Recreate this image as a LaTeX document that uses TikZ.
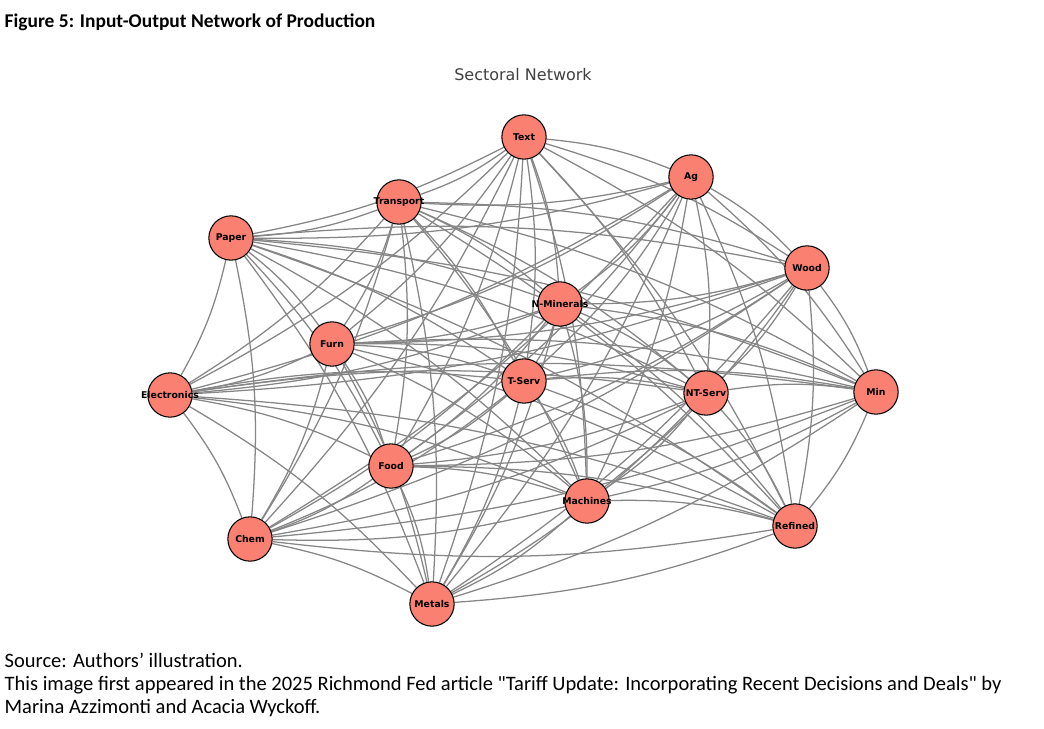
\documentclass[tikz,border=0pt]{standalone}
\usepackage{fontspec}
\setmainfont{Carlito}[Ligatures=TeXReset]
\newfontfamily\dejavu{DejaVu Sans}
\usetikzlibrary{backgrounds}
\definecolor{salmon}{RGB}{250,128,114}
\begin{document}
\begin{tikzpicture}[x=0.0264cm,y=-0.0264cm,
  sector/.style={circle,draw=black,line width=0.8pt,fill=salmon,minimum size=1.17cm,inner sep=0pt,
    label={[font=\dejavu\bfseries\fontsize{7}{8}\selectfont,inner sep=0pt]center:#1}},
  link/.style={draw=gray!95,line width=0.95pt,bend left=8}]
\useasboundingbox (0,0) rectangle (1044,729);
\node[anchor=west,font=\bfseries\fontsize{14.6}{17}\selectfont] (title) at (0,22) {Figure 5: Input-Output Network of Production};
\node[font=\dejavu\fontsize{12}{14}\selectfont,text=black!75] (st) at (523,75) {Sectoral Network};
\node (Text) [sector=Text] at (524,137) {};
\node (Ag) [sector=Ag] at (691,177) {};
\node (Transport) [sector=Transport] at (399,202) {};
\node (Paper) [sector=Paper] at (231,238) {};
\node (Wood) [sector=Wood] at (807,268) {};
\node (NMin) [sector=N-Minerals] at (560,304) {};
\node (Furn) [sector=Furn] at (332,344) {};
\node (Elec) [sector=Electronics] at (170,395) {};
\node (TServ) [sector=T-Serv] at (524,381) {};
\node (NTServ) [sector=NT-Serv] at (706,393) {};
\node (Min) [sector=Min] at (876,392) {};
\node (Food) [sector=Food] at (391,466) {};
\node (Mach) [sector=Machines] at (587,501) {};
\node (Ref) [sector=Refined] at (795,526) {};
\node (Chem) [sector=Chem] at (250,539) {};
\node (Metals) [sector=Metals] at (432,604) {};
\begin{pgfonlayer}{background}
\foreach \a [count=\i] in {Text,Ag,Transport,Paper,Wood,NMin,Furn,Elec,TServ,NTServ,Min,Food,Mach,Ref,Chem,Metals}{
  \foreach \b [count=\j] in {Text,Ag,Transport,Paper,Wood,NMin,Furn,Elec,TServ,NTServ,Min,Food,Mach,Ref,Chem,Metals}{
    \ifnum\i<\j \draw[link] (\a) to (\b); \fi
  }
}
\end{pgfonlayer}
\node[anchor=west,font=\fontsize{15.4}{18}\selectfont] (src) at (0,660) {Source: Authors’ illustration.};
\node[anchor=west,font=\fontsize{15.4}{18}\selectfont] (c1) at (0,685) {This image first appeared in the 2025 Richmond Fed article "Tariff Update: Incorporating Recent Decisions and Deals" by};
\node[anchor=west,font=\fontsize{15.4}{18}\selectfont] (c2) at (0,708) {Marina Azzimonti and Acacia Wyckoff.};
\end{tikzpicture}
\end{document}
